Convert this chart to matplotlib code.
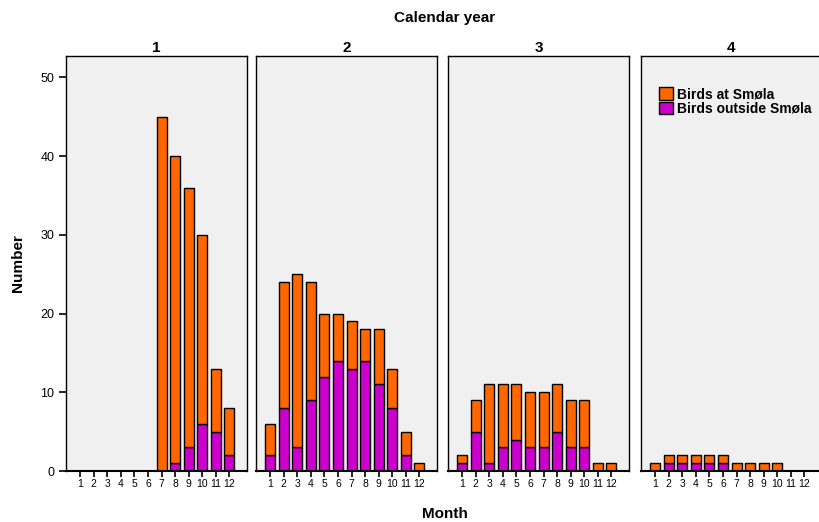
import matplotlib.pyplot as plt
import numpy as np

plt.rcParams['font.family'] = ['Liberation Sans', 'DejaVu Sans']

months = list(range(1, 13))
years = ["1", "2", "3", "4"]

# total birds per month, and the part outside Smøla (purple)
total_y1 = [0, 0, 0, 0, 0, 0, 45, 40, 36, 30, 13, 8]
outside_y1 = [0, 0, 0, 0, 0, 0, 0, 1, 3, 6, 5, 2]
total_y2 = [6, 24, 25, 24, 20, 20, 19, 18, 18, 13, 5, 1]
outside_y2 = [2, 8, 3, 9, 12, 14, 13, 14, 11, 8, 2, 0]
total_y3 = [2, 9, 11, 11, 11, 10, 10, 11, 9, 9, 1, 1]
outside_y3 = [1, 5, 1, 3, 4, 3, 3, 5, 3, 3, 0, 0]
total_y4 = [1, 2, 2, 2, 2, 2, 1, 1, 1, 1, 0, 0]
outside_y4 = [0, 1, 1, 1, 1, 1, 0, 0, 0, 0, 0, 0]

totals = [total_y1, total_y2, total_y3, total_y4]
outsides = [outside_y1, outside_y2, outside_y3, outside_y4]

orange = '#ff6600'
purple = '#cc00cc'

fig = plt.figure(figsize=(8.2, 5.22), dpi=100)
W, H = 820, 522
lefts = [66, 256, 448, 641]
pw = 181
top, bottom = 56, 471

axes = []
for i in range(4):
    ax = fig.add_axes([lefts[i] / W, 1 - bottom / H, pw / W, (bottom - top) / H])
    axes.append(ax)
    ax.set_facecolor('#f0f0f0')
    tot = np.array(totals[i])
    out = np.array(outsides[i])
    at = tot - out
    x = np.array(months)
    m_out = out > 0
    m_at = at > 0
    ax.bar(x[m_out], out[m_out], width=0.74, color=purple, edgecolor='black', linewidth=1.0, label='Birds outside Smøla')
    ax.bar(x[m_at], at[m_at], width=0.74, bottom=out[m_at], color=orange, edgecolor='black', linewidth=1.0, label='Birds at Smøla')
    ax.set_xlim(-0.05, 13.3)
    ax.set_ylim(0, 52.7)
    ax.set_xticks(months)
    ax.set_xticklabels([str(m) for m in months], fontsize=7.5)
    ax.tick_params(axis='x', length=4, width=1.2, pad=2)
    for s in ax.spines.values():
        s.set_linewidth(1.0)
    ax.spines['bottom'].set_linewidth(1.5)
    ax.set_title(years[i], fontsize=11, fontweight='bold', pad=3)
    if i == 0:
        ax.set_yticks([0, 10, 20, 30, 40, 50])
        ax.tick_params(axis='y', length=5, width=1.2, labelsize=9)
    else:
        ax.set_yticks([])

h, l = axes[3].get_legend_handles_labels()
axes[3].legend(h[::-1], l[::-1], loc='upper left', bbox_to_anchor=(0.1, 0.925), frameon=False,
               prop={'weight': 'bold', 'size': 10}, handlelength=1.0, handleheight=1.0,
               handletextpad=0.3, labelspacing=0.05, borderaxespad=0, borderpad=0)

fig.text(445 / W, 1 - 18 / H, 'Calendar year', ha='center', va='center', fontsize=11, fontweight='bold')
fig.text(445 / W, 1 - 514 / H, 'Month', ha='center', va='center', fontsize=11, fontweight='bold')
fig.text(18 / W, 1 - 263 / H, 'Number', ha='center', va='center', rotation=90, fontsize=11, fontweight='bold')

fig.savefig('out.png', dpi=100)
